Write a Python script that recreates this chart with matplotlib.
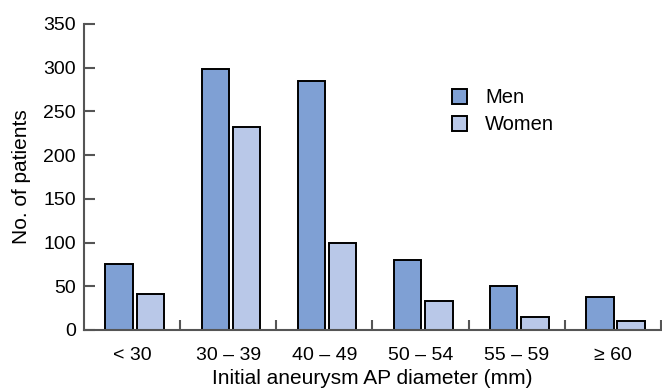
import matplotlib
matplotlib.use("Agg")
import matplotlib.pyplot as plt
import numpy as np

categories = ["< 30", "30 – 39", "40 – 49", "50 – 54", "55 – 59", "≥ 60"]
men = [75, 299, 285, 80, 50, 38]
women = [41, 232, 100, 33, 15, 10]
yticks = [0, 50, 100, 150, 200, 250, 300, 350]

plt.rcParams['font.family'] = ['Liberation Sans', 'DejaVu Sans']

fig = plt.figure(figsize=(6.62, 3.90), dpi=100)
ax = fig.add_axes([84/662, 60/390, 577/662, 306/390])

x = np.arange(len(categories))
w = 0.285
ax.bar(x - 0.135, men, width=w, color="#7fa0d4", edgecolor="black", linewidth=1.4, label="Men")
ax.bar(x + 0.19, women, width=w, color="#b9c8e8", edgecolor="black", linewidth=1.4, label="Women")

ax.set_xlim(-0.5, len(categories) - 0.5)
ax.set_ylim(0, 350)
ax.set_yticks(yticks)
ax.set_xticks(x)
ax.set_xticklabels(categories)
ax.set_xticks(np.arange(len(categories)) + 0.5, minor=True)

spine_c = "#555555"
for s in ["top", "right"]:
    ax.spines[s].set_visible(False)
for s in ["left", "bottom"]:
    ax.spines[s].set_color(spine_c)
    ax.spines[s].set_linewidth(1.5)

ax.tick_params(axis="y", direction="in", length=8, width=1.5, color=spine_c, labelsize=14, pad=6)
ax.tick_params(axis="x", which="major", length=0, labelsize=14, pad=12)
ax.tick_params(axis="x", which="minor", direction="in", length=7, width=1.5, color=spine_c)

ax.set_ylabel("No. of patients", fontsize=15, labelpad=9)
ax.set_xlabel("Initial aneurysm AP diameter (mm)", fontsize=15, labelpad=4)

ax.legend(loc="upper left", bbox_to_anchor=(0.638, 0.79), frameon=False, fontsize=14.5,
          handlelength=0.75, handleheight=0.75, handletextpad=0.9, labelspacing=0.4,
          borderaxespad=0, borderpad=0)

fig.savefig("out.png", dpi=100)
